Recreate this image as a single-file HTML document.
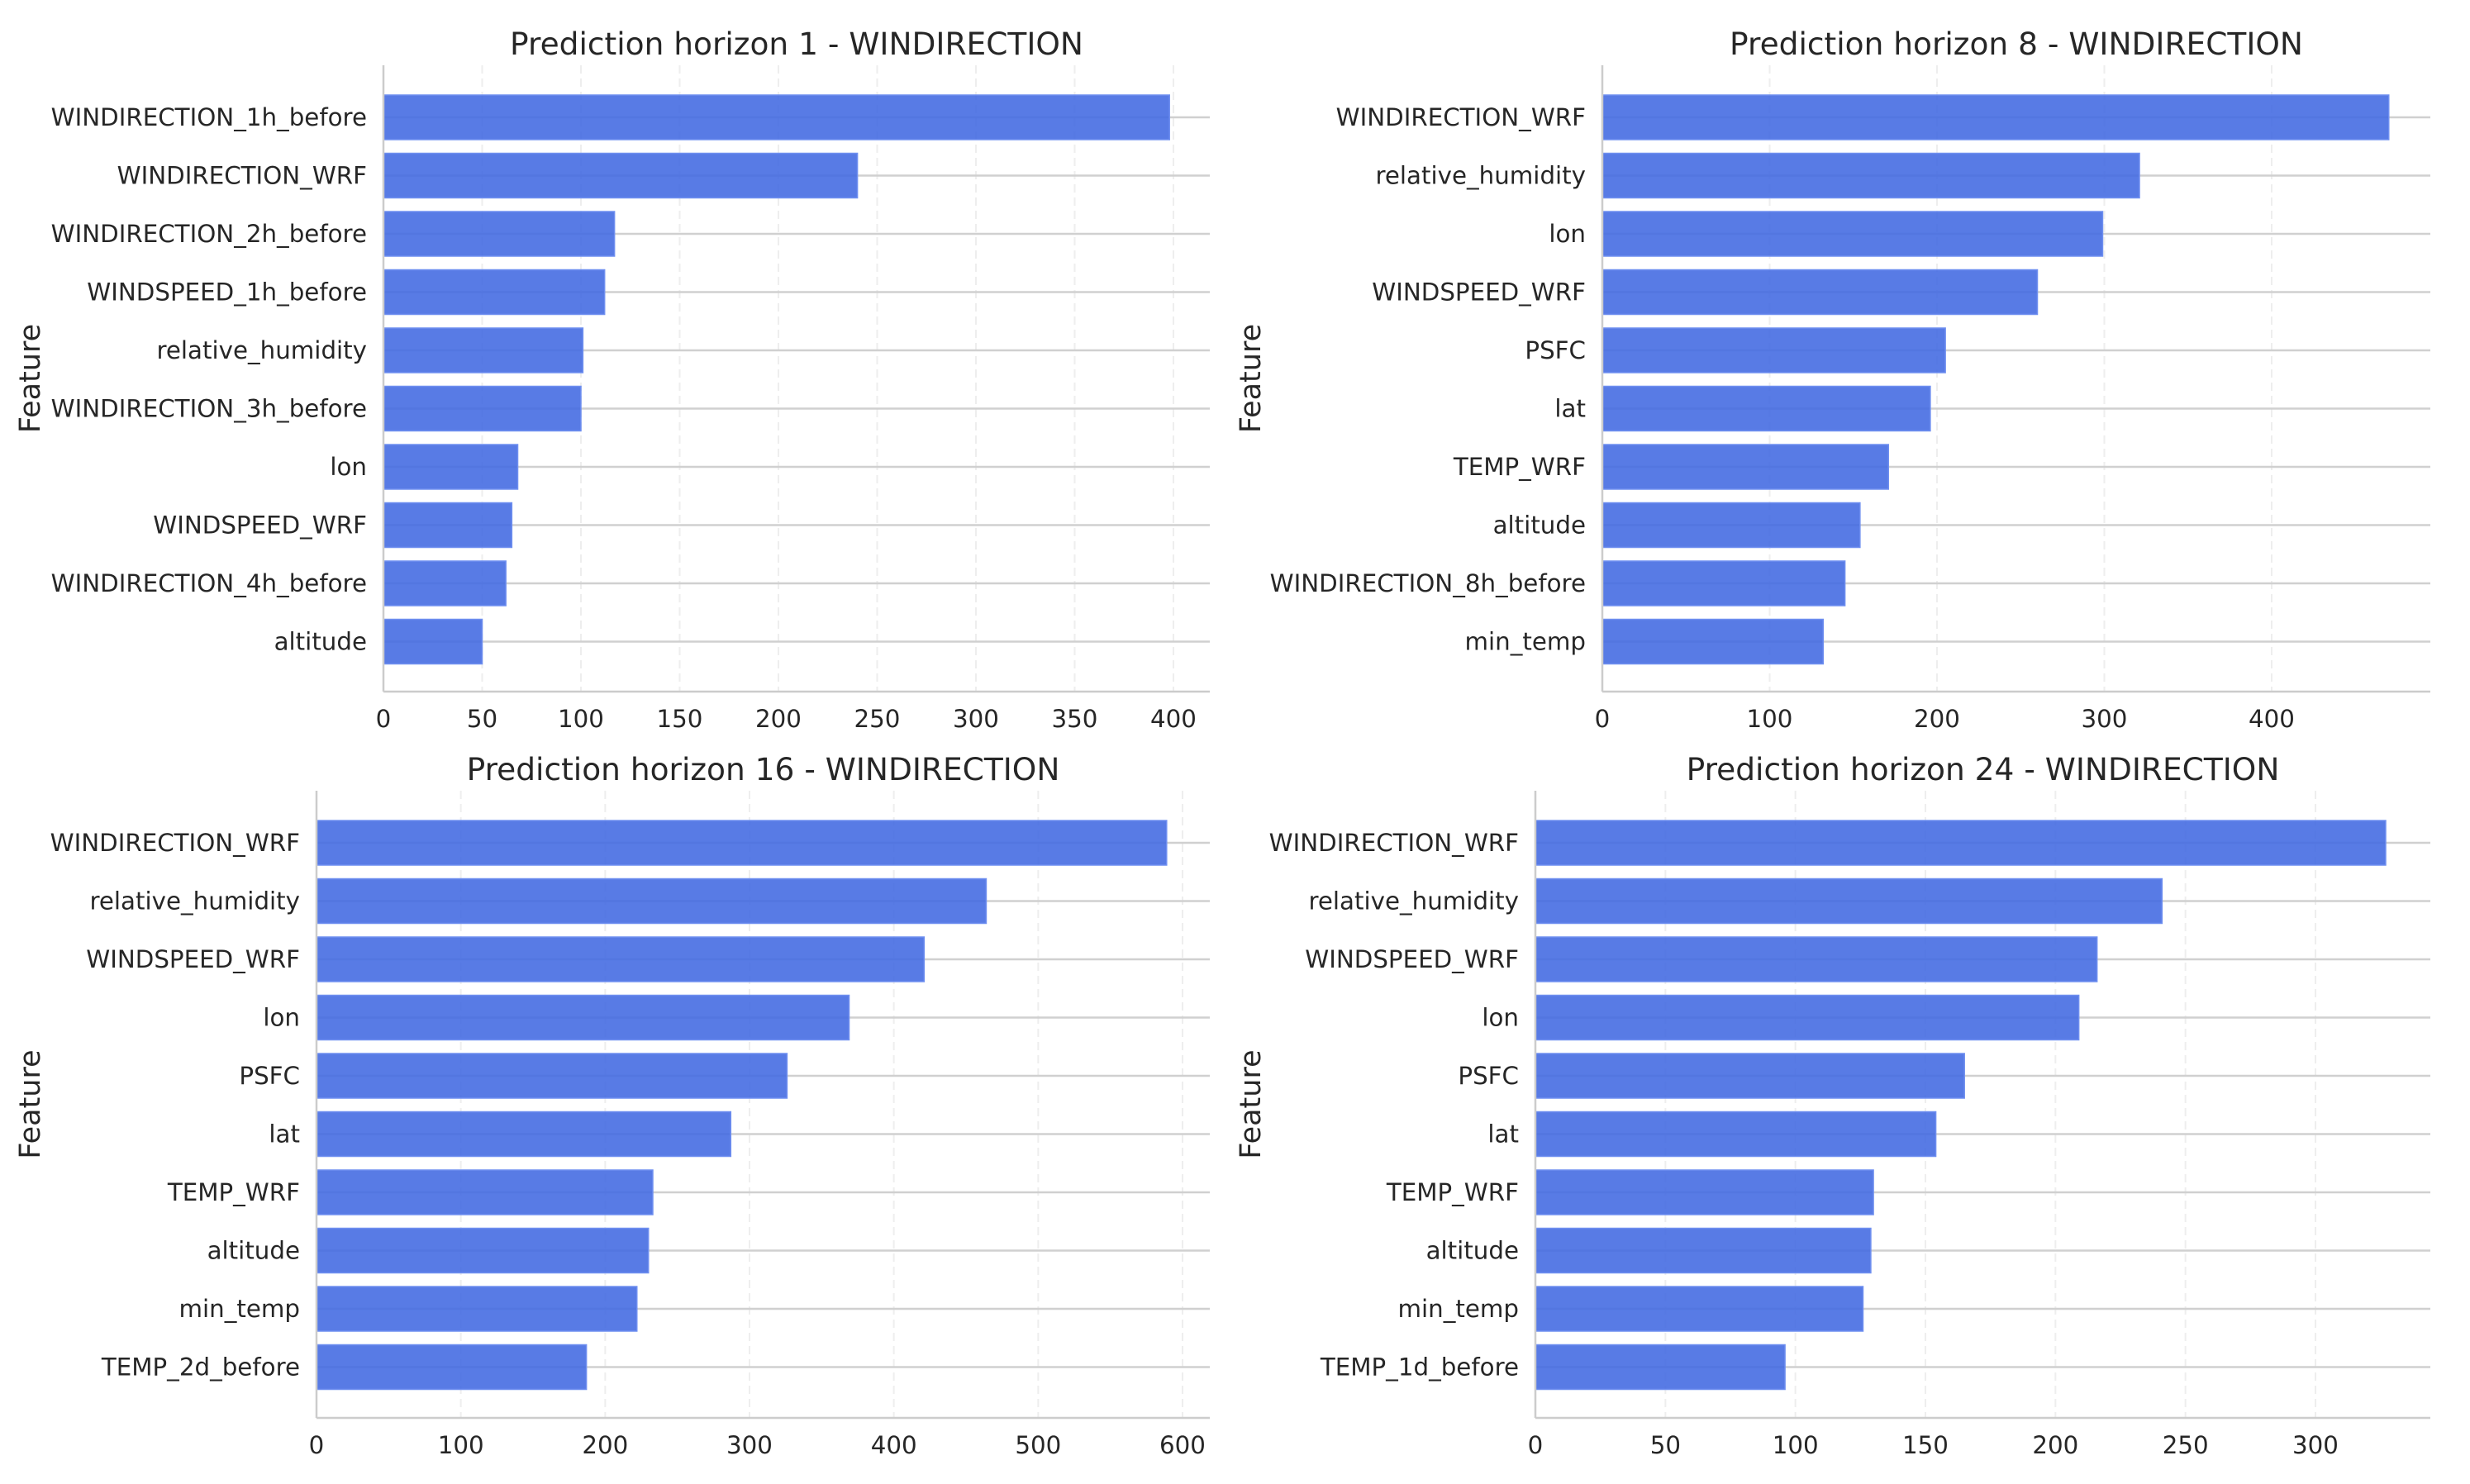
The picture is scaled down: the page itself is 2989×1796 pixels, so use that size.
<!DOCTYPE html>
<html><head><meta charset="utf-8"><style>
html,body{margin:0;padding:0;background:#fff;}
svg{display:block;font-family:"DejaVu Sans","Liberation Sans",sans-serif;}
</style></head><body>
<svg id="chart" width="2989" height="1796" viewBox="0 0 2989 1796" xmlns="http://www.w3.org/2000/svg"></svg>
<script>
const titles = ["Prediction horizon 1 - WINDIRECTION","Prediction horizon 8 - WINDIRECTION","Prediction horizon 16 - WINDIRECTION","Prediction horizon 24 - WINDIRECTION"];
const features1 = ["WINDIRECTION_1h_before","WINDIRECTION_WRF","WINDIRECTION_2h_before","WINDSPEED_1h_before","relative_humidity","WINDIRECTION_3h_before","lon","WINDSPEED_WRF","WINDIRECTION_4h_before","altitude"];
const values1 = [398,240,117,112,101,100,68,65,62,50];
const ticks1 = [0,50,100,150,200,250,300,350,400];
const features8 = ["WINDIRECTION_WRF","relative_humidity","lon","WINDSPEED_WRF","PSFC","lat","TEMP_WRF","altitude","WINDIRECTION_8h_before","min_temp"];
const values8 = [470,321,299,260,205,196,171,154,145,132];
const ticks8 = [0,100,200,300,400];
const features16 = ["WINDIRECTION_WRF","relative_humidity","WINDSPEED_WRF","lon","PSFC","lat","TEMP_WRF","altitude","min_temp","TEMP_2d_before"];
const values16 = [589,464,421,369,326,287,233,230,222,187];
const ticks16 = [0,100,200,300,400,500,600];
const features24 = ["WINDIRECTION_WRF","relative_humidity","WINDSPEED_WRF","lon","PSFC","lat","TEMP_WRF","altitude","min_temp","TEMP_1d_before"];
const values24 = [327,241,216,209,165,154,130,129,126,96];
const ticks24 = [0,50,100,150,200,250,300];

const NS="http://www.w3.org/2000/svg";
const svg=document.getElementById('chart');
function mk(tag,attrs,parent){const e=document.createElementNS(NS,tag);for(const k in attrs)e.setAttribute(k,attrs[k]);(parent||svg).appendChild(e);return e;}

const layouts=[
 {x0:464,x1:1464,top:79,bottom:837,pxPer:(1420-464)/400,fx:35,feats:features1,vals:values1,ticks:ticks1,title:titles[0]},
 {x0:1939,x1:2941,top:79,bottom:837,pxPer:(2749-1939)/400,fx:1512,feats:features8,vals:values8,ticks:ticks8,title:titles[1]},
 {x0:383,x1:1464,top:957,bottom:1716,pxPer:(1431-383)/600,fx:35,feats:features16,vals:values16,ticks:ticks16,title:titles[2]},
 {x0:1858,x1:2941,top:957,bottom:1716,pxPer:(2802-1858)/300,fx:1512,feats:features24,vals:values24,ticks:ticks24,title:titles[3]}
];
layouts.forEach((L,pi)=>{
  const g=mk('g',{});
  
  
  const xs=v=>L.x0+v*L.pxPer;
  const n=L.feats.length;
  const first=L.top+63, step=70.5;
  const ys=i=>first+i*step;
  L.ticks.forEach(t=>{
    const l=mk('line',{x1:xs(t),x2:xs(t),y1:L.top,y2:L.bottom,stroke:'#eeeeee','stroke-width':2,'stroke-dasharray':'10,6'},g);
    
    
  });
  for(let i=0;i<n;i++){
    const l=mk('line',{x1:L.x0,x2:L.x1,y1:ys(i),y2:ys(i),stroke:'#d0d0d0','stroke-width':2.5},g);
    
    
  }
  for(let i=0;i<n;i++){
    const r=mk('rect',{x:L.x0,y:ys(i)-27,width:xs(L.vals[i])-L.x0,height:54,fill:'#4169e1','fill-opacity':0.88,stroke:'#6f8ff0','stroke-width':1.5},g);
    
    
    const t=mk('text',{x:L.x0-20,y:ys(i)+10,'text-anchor':'end','font-size':29.3,fill:'#262626'},g);
    t.textContent=L.feats[i];
    
    
  }
  const ax=mk('line',{x1:L.x0,x2:L.x0,y1:L.top,y2:L.bottom,stroke:'#cccccc','stroke-width':2.5},g);
  
  
  const bx=mk('line',{x1:L.x0,x2:L.x1,y1:L.bottom,y2:L.bottom,stroke:'#cccccc','stroke-width':2.5},g);
  
  
  L.ticks.forEach(t=>{
    const tx=mk('text',{x:xs(t),y:L.bottom+43,'text-anchor':'middle','font-size':29.3,fill:'#262626'},g);
    tx.textContent=String(t);
    
    
  });
  const tt=mk('text',{x:(L.x0+L.x1)/2,y:L.top-13,'text-anchor':'middle','font-size':37.5,fill:'#262626'},g);
  tt.textContent=L.title;
  
  
  const cy=(L.top+L.bottom)/2;
  const yl=mk('text',{x:L.fx+13,y:cy,'text-anchor':'middle','font-size':35,fill:'#262626',transform:'rotate(-90 '+(L.fx+13)+' '+cy+')'},g);
  yl.textContent='Feature';
  
  
});
</script>
</body></html>
